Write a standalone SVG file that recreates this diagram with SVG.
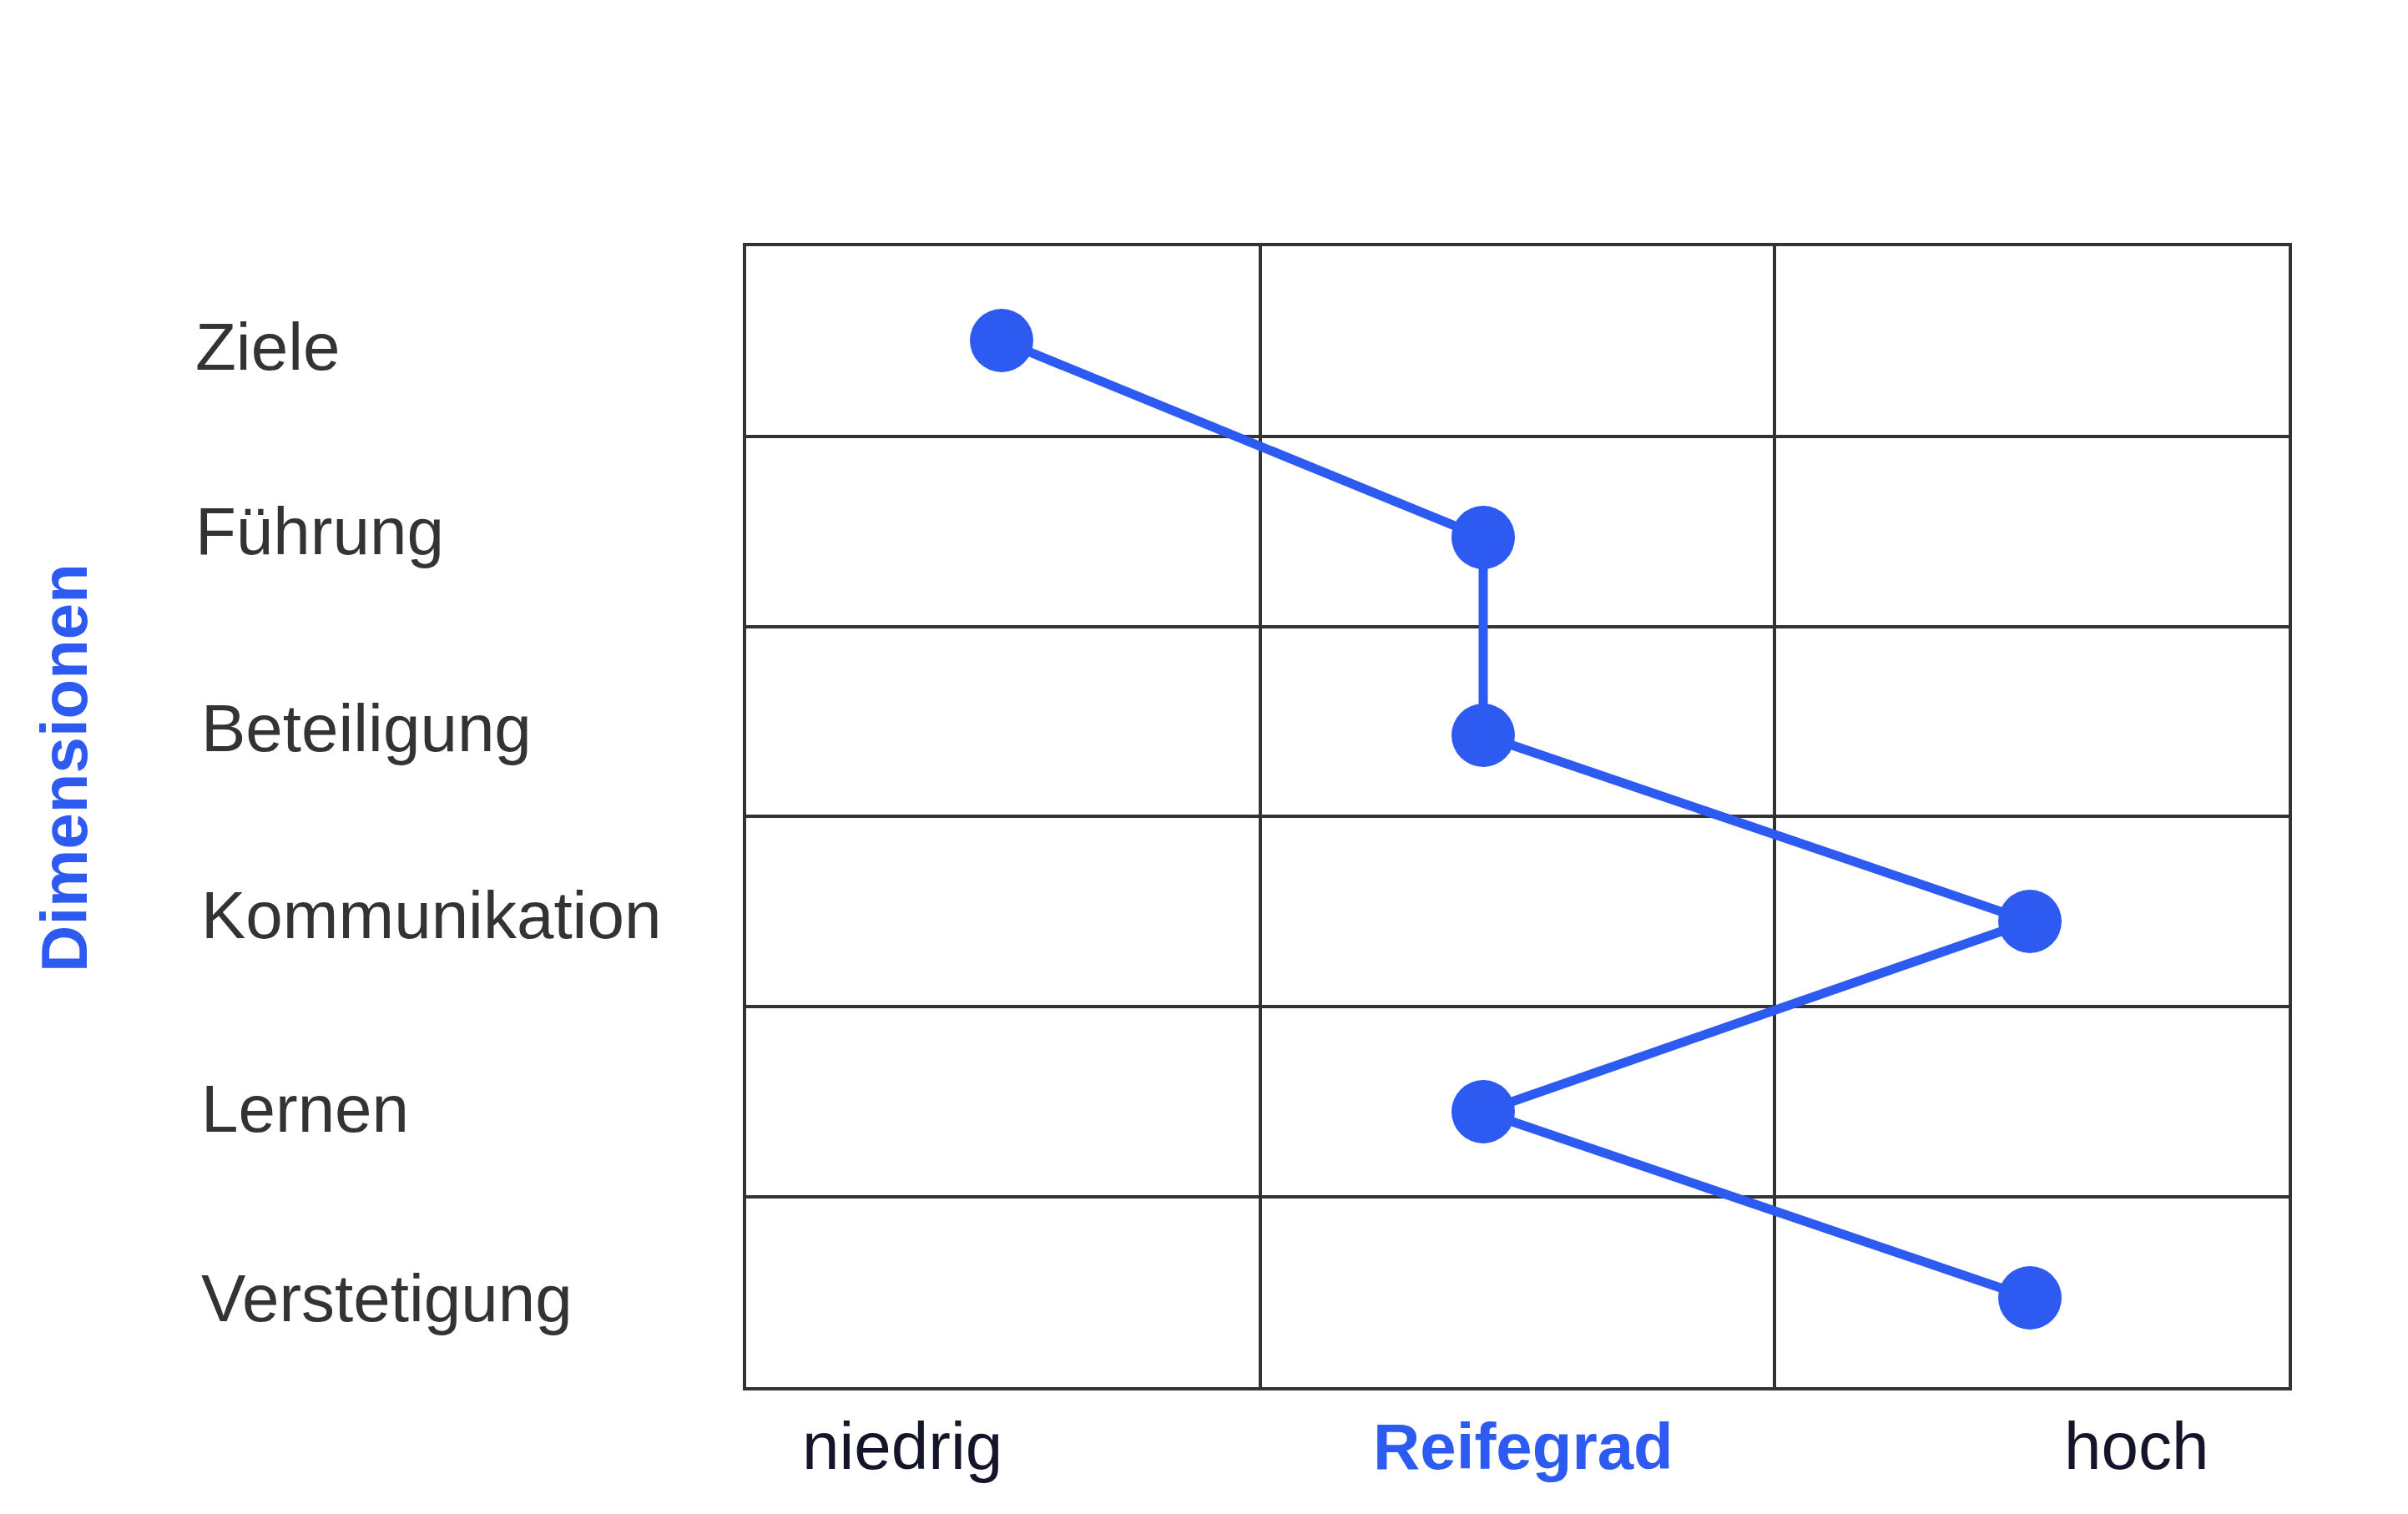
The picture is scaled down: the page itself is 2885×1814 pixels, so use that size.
<svg xmlns="http://www.w3.org/2000/svg" width="2885" height="1814" viewBox="0 0 2885 1814">
<style>
.lbl{font-family:"Liberation Sans",Arial,sans-serif;font-size:80px;fill:#333}
.ax{font-family:"Liberation Sans",Arial,sans-serif;font-size:80px;fill:#14142a}
.bl{font-family:"Liberation Sans",Arial,sans-serif;font-size:78px;font-weight:bold;fill:#2d5af0}
.g{stroke:#333;stroke-width:4;fill:none}
.dot{fill:#2d5af0}
</style>
<rect width="2885" height="1814" fill="#fff"/>
<g id="grid">
<rect x="892" y="293" width="1852" height="1371" fill="#fdfdfd" class="g"/>
<path class="g" d="M1510 293V1664M2126 293V1664M892 523H2744M892 751H2744M892 978H2744M892 1206H2744M892 1434H2744"/>
</g>
<g id="labels">
<text class="lbl" x="234" y="443">Ziele</text>
<text class="lbl" x="234" y="664">Führung</text>
<text class="lbl" x="241" y="900">Beteiligung</text>
<text class="lbl" x="241" y="1124">Kommunikation</text>
<text class="lbl" x="241" y="1356">Lernen</text>
<text class="lbl" x="241" y="1583">Verstetigung</text>
<text class="bl" transform="translate(104,920) rotate(-90)" text-anchor="middle">Dimensionen</text>
<text class="ax" x="961" y="1760">niedrig</text>
<text class="bl" x="1645" y="1760">Reifegrad</text>
<text class="ax" x="2473" y="1760">hoch</text>
</g>
<g id="connectors">
<polyline points="1200,408 1777,644 1777,881 2432,1104 1777,1332 2432,1555" fill="none" stroke="#2d5af0" stroke-width="11"/>
</g>
<g id="points">
<circle class="dot" cx="1200" cy="408" r="38"/>
<circle class="dot" cx="1777" cy="644" r="38"/>
<circle class="dot" cx="1777" cy="881" r="38"/>
<circle class="dot" cx="2432" cy="1104" r="38"/>
<circle class="dot" cx="1777" cy="1332" r="38"/>
<circle class="dot" cx="2432" cy="1555" r="38"/>
</g>
</svg>
